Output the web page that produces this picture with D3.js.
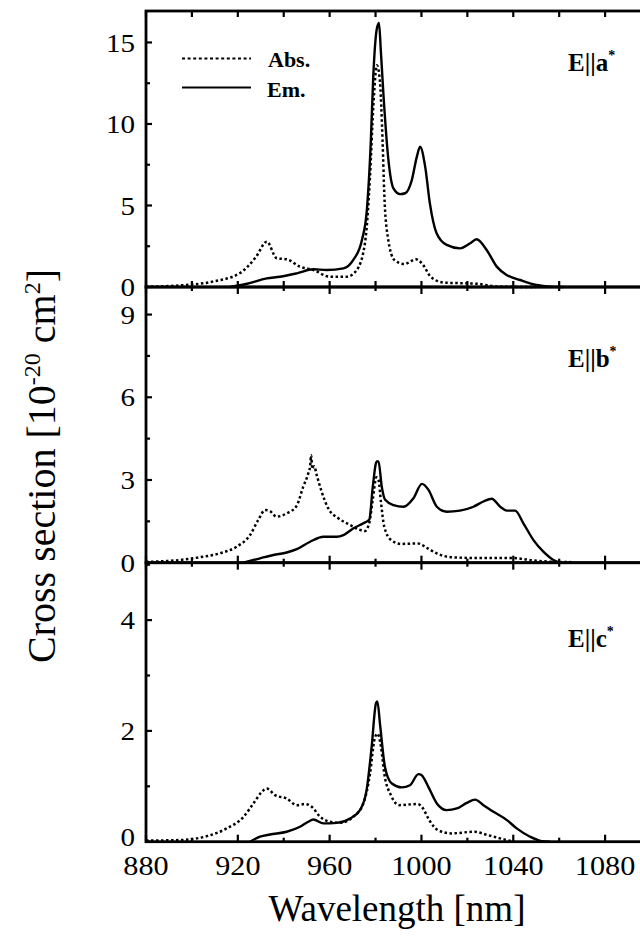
<!DOCTYPE html>
<html><head><meta charset="utf-8">
<script src="https://cdn.jsdelivr.net/npm/d3@7"></script>
<style>body{margin:0;background:#fff}svg{display:block}</style>
</head><body>
<script>
// ---- data ----
const wavelengthTicks = [880, 920, 960, 1000, 1040, 1080];
const panelNames = ["a", "b", "c"];
const yTicksA = [0, 5, 10, 15];
const yTicksB = [0, 3, 6, 9];
const yTicksC = [0, 2, 4];
const legendLabels = ["Abs.", "Em."];

const absA = [[880,0.02],[895,0.1],[909,0.33],[921,0.86],[928,1.86],[932.6,2.78],[937,1.76],[941.3,1.7],[947,1.25],[953,1.04],[960,0.63],[967.5,0.63],[971.8,1.04],[975.4,2.7],[977.6,6.8],[979,11.0],[980.6,13.6],[981.8,12.8],[983.1,8.8],[983.8,5.75],[985.3,3.1],[988.2,1.66],[992.5,1.41],[997.6,1.7],[1000.5,1.4],[1004,0.63],[1009.8,0.27],[1024,0.2],[1034,0.02],[1050,0]];
const emA = [[916.6,0],[924,0.2],[932.6,0.53],[938.4,0.63],[945.7,0.84],[952.9,1.09],[958.7,1.04],[966,1.14],[970.3,1.66],[974.1,2.9],[976.2,4.7],[977.9,8.8],[979,12.9],[980.5,15.8],[981.5,16.2],[982.3,14.5],[983.4,11.9],[985.6,7.8],[987.8,6.05],[990.7,5.7],[992.9,5.75],[995.8,6.56],[998,8.0],[999.4,8.6],[1001.6,7.4],[1003.7,5.1],[1006.6,3.3],[1011,2.58],[1016.8,2.37],[1021.2,2.68],[1024,2.93],[1028.4,2.27],[1032.8,1.25],[1037.1,0.74],[1043,0.43],[1050.2,0.12],[1056,0.02],[1062,0]];
const absB = [[880,0.03],[895,0.1],[903.5,0.2],[912.2,0.34],[919.5,0.58],[925.3,1.0],[928.9,1.55],[931.9,1.91],[934,1.87],[936.9,1.67],[941.3,1.79],[945.6,2.06],[948.5,2.76],[950.7,3.24],[951.5,3.5],[951.9,3.9],[952.5,3.4],[953.3,3.5],[954.3,3.2],[956.5,2.58],[959.4,1.97],[963.8,1.61],[968.9,1.37],[973.2,1.19],[975.4,1.15],[977.3,1.45],[978.8,2.3],[980.4,3.1],[981.3,3.0],[982.4,2.16],[983.8,1.31],[986.8,0.82],[991.1,0.68],[998.4,0.7],[1002.7,0.52],[1007.1,0.32],[1012.9,0.2],[1024.5,0.17],[1039,0.17],[1049.2,0.08],[1057.8,0.03],[1066,0.02]];
const emB = [[922.4,0],[929.7,0.16],[935.5,0.28],[941.3,0.37],[945.7,0.49],[951.5,0.76],[957.3,0.94],[963.1,0.94],[966,1.0],[970.4,1.25],[974.7,1.43],[977.3,1.57],[978.8,2.76],[980.5,3.67],[981.3,3.67],[982.7,2.76],[984.2,2.28],[987.8,2.09],[992.2,2.03],[996.5,2.34],[1000.2,2.86],[1003,2.65],[1006.7,2.03],[1011,1.85],[1016.8,1.89],[1022.6,2.03],[1027,2.22],[1030.6,2.32],[1034.3,2.03],[1037.2,1.89],[1040.8,1.89],[1044.4,1.43],[1048.8,0.82],[1053.1,0.4],[1057.5,0.1],[1060.4,0]];
const absC = [[880,0.02],[894.8,0.03],[906.5,0.1],[915.2,0.24],[922.5,0.45],[926.8,0.69],[930.5,0.9],[932.6,0.96],[936.2,0.84],[941.3,0.78],[945.7,0.66],[949.3,0.68],[952.2,0.63],[955.8,0.45],[960.2,0.36],[964.5,0.34],[970.3,0.45],[974.7,0.69],[977.6,1.23],[979.5,1.84],[980.8,1.95],[982.4,1.71],[983.8,1.23],[986.7,0.84],[990.4,0.66],[998.4,0.68],[1000.5,0.61],[1003.4,0.39],[1007.1,0.21],[1012.9,0.15],[1023,0.18],[1028.9,0.12],[1036.1,0.04],[1040.5,0]];
const emC = [[925.3,0],[929.7,0.09],[934,0.13],[941.3,0.18],[947.1,0.27],[950.7,0.36],[952.9,0.4],[957.3,0.33],[963.1,0.34],[968.9,0.42],[973.2,0.57],[976.1,0.93],[978.3,1.71],[980.2,2.5],[980.8,2.53],[982,2.1],[984.1,1.35],[987.1,1.05],[991.4,0.98],[995,1.02],[998.7,1.22],[1000.1,1.2],[1003,0.99],[1006.7,0.69],[1011,0.57],[1015.4,0.6],[1019.7,0.7],[1023.4,0.76],[1027,0.66],[1031.4,0.54],[1037.2,0.39],[1041.5,0.24],[1047.3,0.09],[1052.4,0.01],[1056,0]];

// ---- layout ----
const FONT = "'Liberation Serif', 'DejaVu Serif', serif";
const W = 640, H = 936;
const svg = d3.select("body").append("svg").attr("width", W).attr("height", H)
  .attr("font-family", FONT);
const x = d3.scaleLinear().domain([880, 1100]).range([146, 651]);

const panels = [
  {name: panelNames[0], top: 11, bottom: 287, max: 16.93, ticks: yTicksA, minor: 2.5, abs: absA, em: emA, labelY: 71},
  {name: panelNames[1], top: 287, bottom: 562.7, max: 10, ticks: yTicksB, minor: 1.5, abs: absB, em: emB, labelY: 367},
  {name: panelNames[2], top: 562.7, bottom: 841.7, max: 5.036, ticks: yTicksC, minor: 1, abs: absC, em: emC, labelY: 647}
];

const xMinor = d3.range(880, 1101, 20);

panels.forEach((p, i) => {
  const y = d3.scaleLinear().domain([0, p.max]).range([p.bottom, p.top]);
  const g = svg.append("g");
  const line = d3.line().x(d => x(d[0])).y(d => y(d[1])).curve(d3.curveMonotoneX);

  g.append("path").datum(p.abs).attr("d", line).attr("fill", "none")
    .attr("stroke", "#000").attr("stroke-width", 2.5).attr("stroke-dasharray", "2.5,2.5");
  g.append("path").datum(p.em).attr("d", line).attr("fill", "none")
    .attr("stroke", "#000").attr("stroke-width", 2.4).attr("stroke-linejoin", "round");

  g.append("rect").attr("x", x(880)).attr("y", p.top).attr("width", x(1100) - x(880))
    .attr("height", p.bottom - p.top).attr("fill", "none").attr("stroke", "#000").attr("stroke-width", 2.8);

  const minorVals = d3.range(0, p.max + 1e-9, p.minor);
  minorVals.forEach(v => {
    const major = p.ticks.some(t => Math.abs(t - v) < 1e-6);
    const len = major ? 6 : 4;
    g.append("line").attr("x1", x(880)).attr("x2", x(880) + len).attr("y1", y(v)).attr("y2", y(v))
      .attr("stroke", "#000").attr("stroke-width", 2.2);
    g.append("line").attr("x1", x(1100)).attr("x2", x(1100) - len).attr("y1", y(v)).attr("y2", y(v))
      .attr("stroke", "#000").attr("stroke-width", 2.2);
  });
  p.ticks.forEach(t => {
    const ty = y(t) + (i === 2 && t === 0 ? -5 : 0);
    g.append("text").attr("transform", `translate(135,${ty}) scale(1.12,1)`).attr("dy", "0.35em")
      .attr("text-anchor", "end").attr("font-size", 26).text(t);
  });

  xMinor.forEach(v => {
    const major = wavelengthTicks.includes(v);
    const len = i === 0 ? 6 : (major ? 7 : 4);
    g.append("line").attr("x1", x(v)).attr("x2", x(v)).attr("y1", p.bottom).attr("y2", p.bottom - len)
      .attr("stroke", "#000").attr("stroke-width", 2.2);
    g.append("line").attr("x1", x(v)).attr("x2", x(v)).attr("y1", p.top).attr("y2", p.top + len)
      .attr("stroke", "#000").attr("stroke-width", 2.2);
  });

  const lt = g.append("text").attr("x", 568).attr("y", p.labelY).attr("font-size", 25).attr("font-weight", "bold");
  lt.append("tspan").text("E||" + p.name);
  lt.append("tspan").attr("dy", -11).attr("font-size", 14).text("*");
});

wavelengthTicks.forEach(t => {
  svg.append("text").attr("transform", `translate(${x(t)},875) scale(1.12,1)`).attr("text-anchor", "middle")
    .attr("font-size", 27).text(t);
});

svg.append("text").attr("x", 397).attr("y", 921).attr("text-anchor", "middle")
  .attr("font-size", 37).text("Wavelength [nm]");

const yt = svg.append("text").attr("transform", "translate(55,466) rotate(-90)")
  .attr("text-anchor", "middle").attr("font-size", 40);
yt.append("tspan").text("Cross section [10");
yt.append("tspan").attr("dy", -15).attr("font-size", 24).text("-20");
yt.append("tspan").attr("dy", 15).text(" cm");
yt.append("tspan").attr("dy", -15).attr("font-size", 24).text("2");
yt.append("tspan").attr("dy", 15).text("]");

const leg = svg.append("g");
leg.append("line").attr("x1", 182).attr("x2", 251).attr("y1", 58.5).attr("y2", 58.5)
  .attr("stroke", "#000").attr("stroke-width", 2).attr("stroke-dasharray", "3,2.6");
leg.append("line").attr("x1", 182).attr("x2", 251).attr("y1", 87.5).attr("y2", 87.5)
  .attr("stroke", "#000").attr("stroke-width", 2);
leg.append("text").attr("x", 268).attr("y", 67).attr("font-size", 22).attr("font-weight", "bold").text(legendLabels[0]);
leg.append("text").attr("x", 267).attr("y", 97).attr("font-size", 22).attr("font-weight", "bold").text(legendLabels[1]);
</script>
</body></html>
